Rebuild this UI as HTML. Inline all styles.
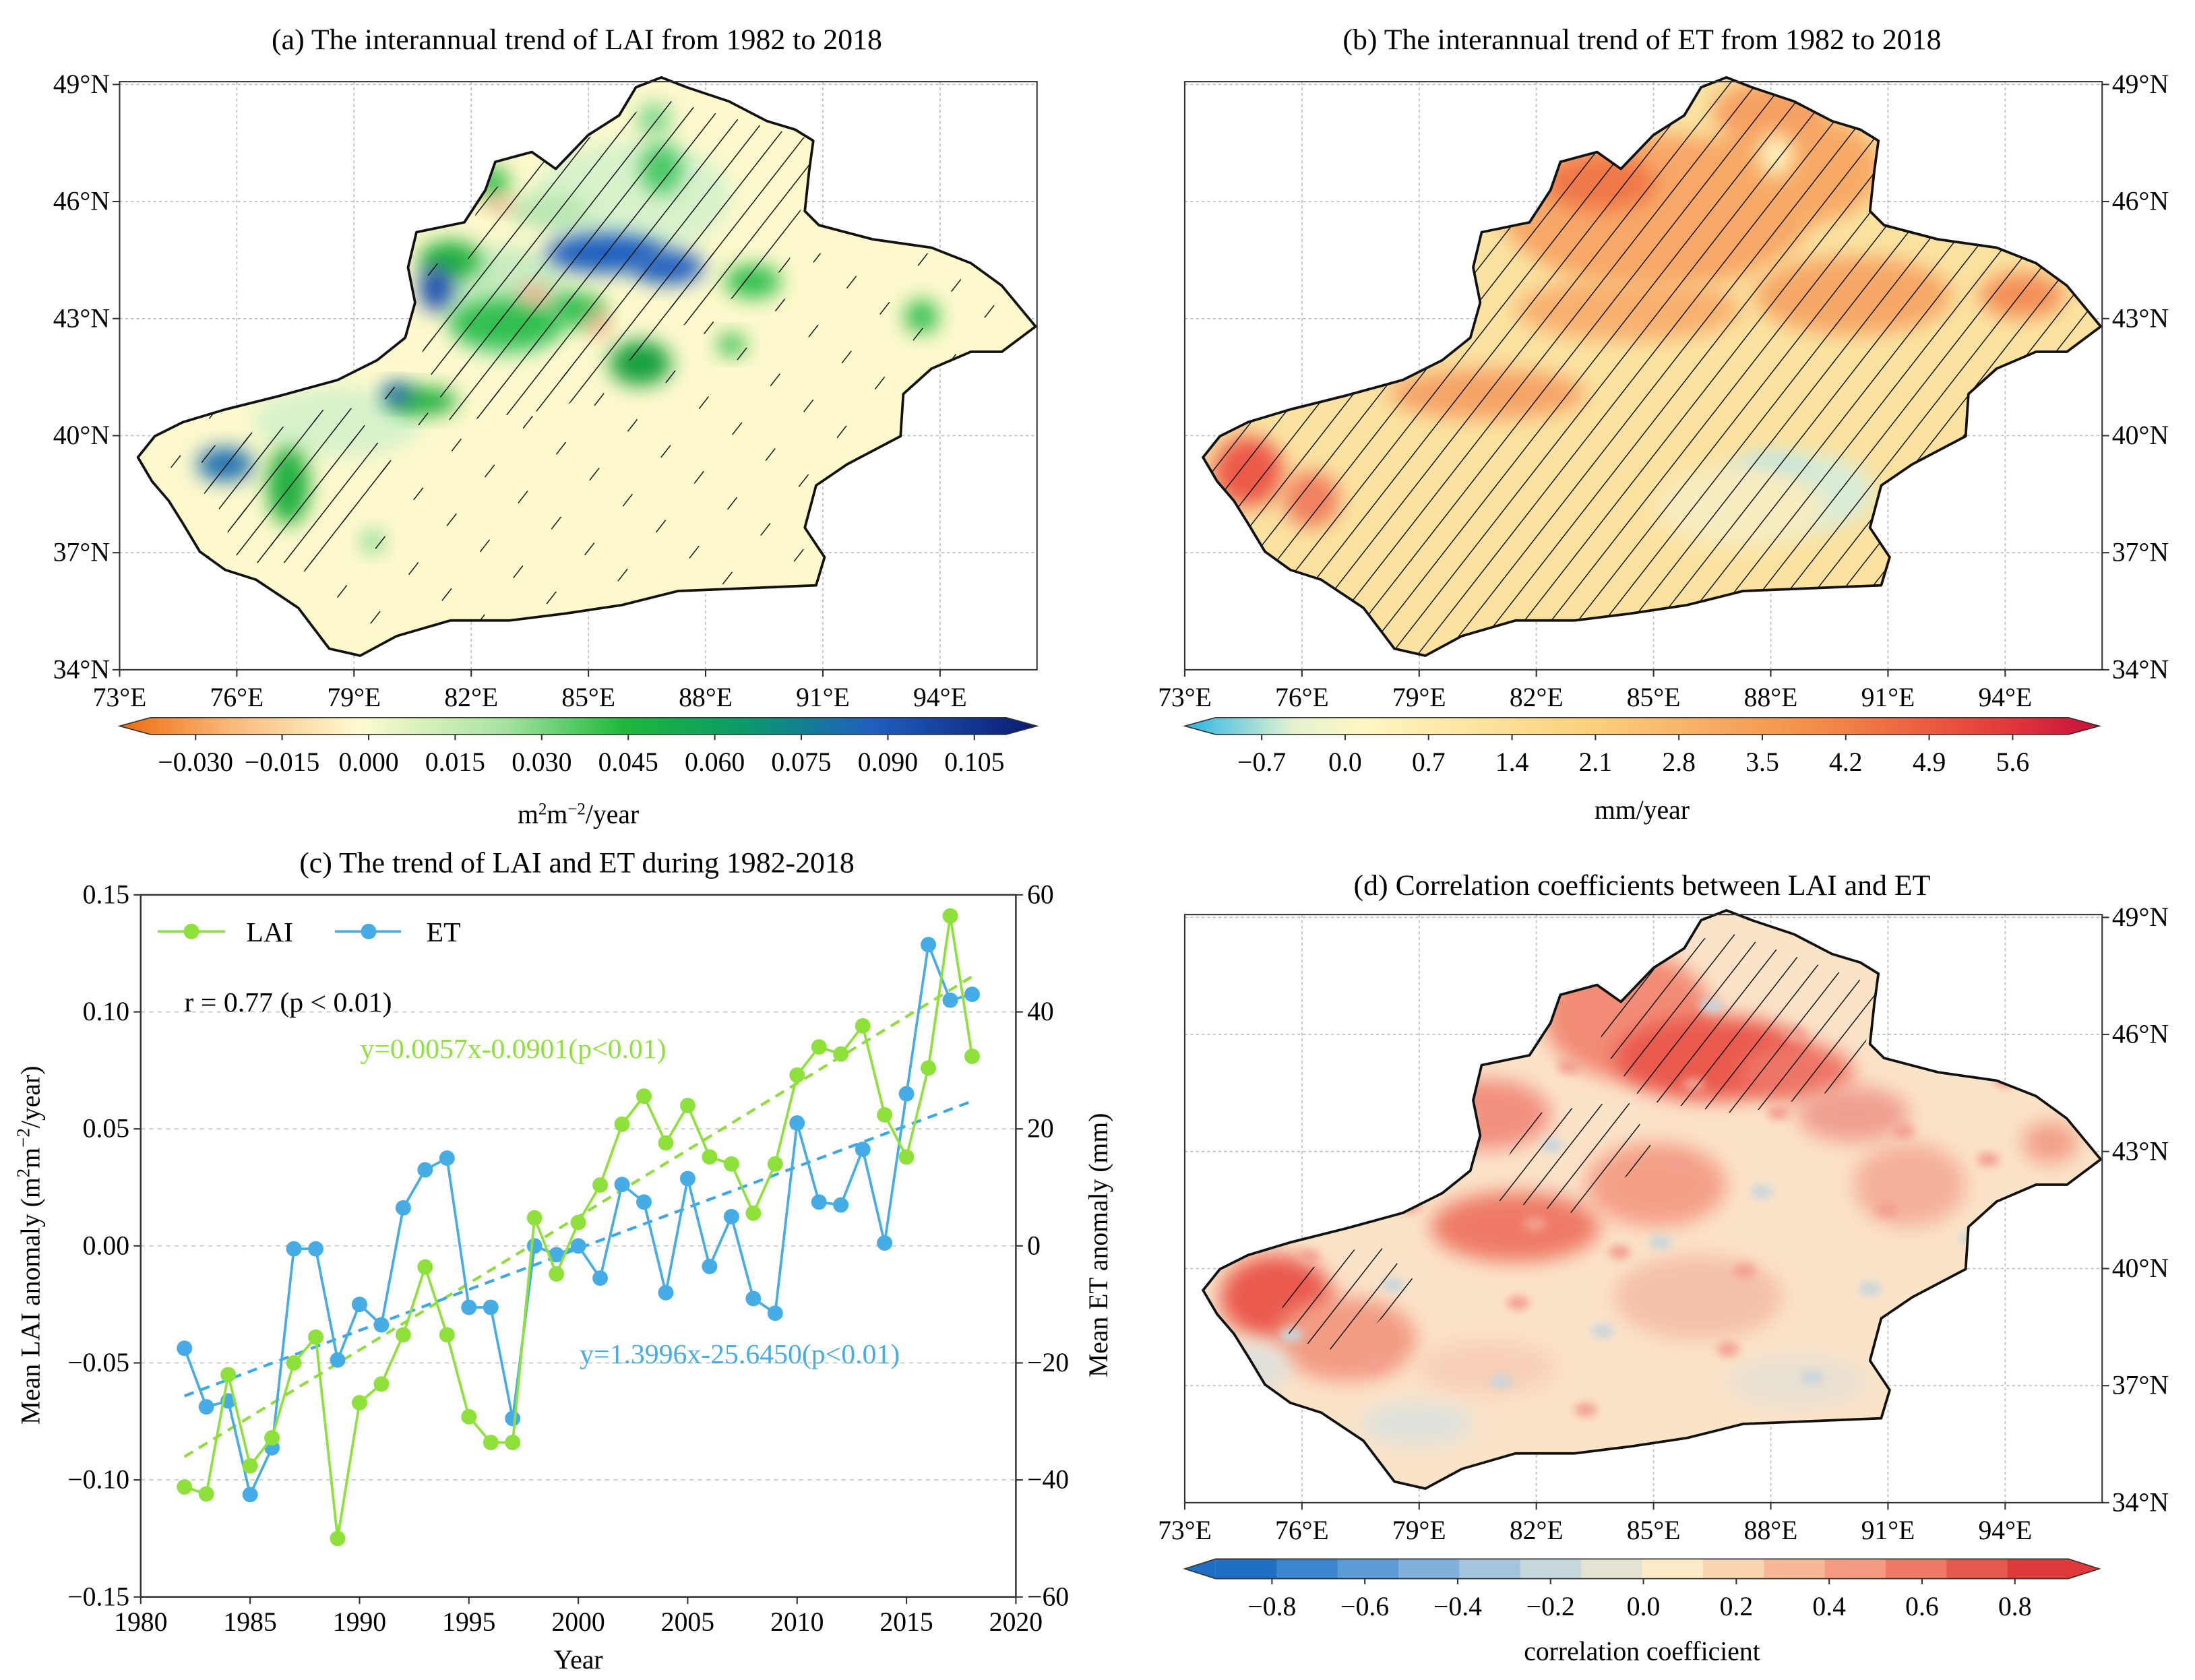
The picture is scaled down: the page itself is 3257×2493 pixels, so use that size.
<!DOCTYPE html>
<html><head><meta charset="utf-8">
<style>
html,body{margin:0;padding:0;background:#fff;}
svg{display:block;font-family:"Liberation Serif","DejaVu Serif",serif;}
</style></head>
<body>
<svg id="fig" width="3257" height="2493" viewBox="0 0 1560 1194" xmlns="http://www.w3.org/2000/svg">
<defs>
  <filter id="blur" x="-50%" y="-50%" width="200%" height="200%"><feGaussianBlur stdDeviation="7"/></filter>
  <filter id="blur2" x="-50%" y="-50%" width="200%" height="200%"><feGaussianBlur stdDeviation="3"/></filter>
  <pattern id="hatch" width="15" height="14" patternUnits="userSpaceOnUse" patternTransform="rotate(38)">
    <line x1="0" y1="0" x2="0" y2="14" stroke="#111" stroke-width="1.4"/>
  </pattern>
  <pattern id="hatchSparse" width="30" height="44" patternUnits="userSpaceOnUse" patternTransform="rotate(38)">
    <line x1="0" y1="0" x2="0" y2="11" stroke="#111" stroke-width="1.4"/>
  </pattern>
  <linearGradient id="gradA" x1="0" x2="1">
    <stop offset="0" stop-color="#ee6a0c"/>
    <stop offset="0.12" stop-color="#f8b878"/>
    <stop offset="0.26" stop-color="#fffbd0"/>
    <stop offset="0.42" stop-color="#a6e3a0"/>
    <stop offset="0.55" stop-color="#1db83a"/>
    <stop offset="0.68" stop-color="#0a9a6a"/>
    <stop offset="0.82" stop-color="#1f5fc0"/>
    <stop offset="1" stop-color="#0a1a70"/>
  </linearGradient>
  <linearGradient id="gradB" x1="0" x2="1">
    <stop offset="0" stop-color="#26b5e6"/>
    <stop offset="0.12" stop-color="#e6f3d0"/>
    <stop offset="0.2" stop-color="#fff6c0"/>
    <stop offset="0.45" stop-color="#fbcf7a"/>
    <stop offset="0.7" stop-color="#f38a48"/>
    <stop offset="0.88" stop-color="#e6403a"/>
    <stop offset="1" stop-color="#c8103a"/>
  </linearGradient>
  <clipPath id="clipA"><path id="shapeA" d=""/></clipPath>
  <clipPath id="clipB"><path id="shapeB" d=""/></clipPath>
  <clipPath id="clipD"><path id="shapeD" d=""/></clipPath>
</defs>
<rect width="1560" height="1194" fill="#fff"/>

<text x="410" y="35" font-size="21" text-anchor="middle">(a) The interannual trend of LAI from 1982 to 2018</text>
<text x="1167" y="35" font-size="21" text-anchor="middle">(b) The interannual trend of ET from 1982 to 2018</text>
<text x="410" y="620" font-size="21" text-anchor="middle">(c) The trend of LAI and ET during 1982-2018</text>
<text x="1167" y="636" font-size="21" text-anchor="middle">(d) Correlation coefficients between LAI and ET</text>

<g id="maps"></g>
<g id="panelC"></g>
</svg>

<script>
// ---------- Panel C data ----------
const years = [1982,1983,1984,1985,1986,1987,1988,1989,1990,1991,1992,1993,1994,1995,1996,1997,1998,1999,2000,2001,2002,2003,2004,2005,2006,2007,2008,2009,2010,2011,2012,2013,2014,2015,2016,2017,2018];
const laiValues = [-0.103,-0.106,-0.055,-0.094,-0.082,-0.050,-0.039,-0.125,-0.067,-0.059,-0.038,-0.009,-0.038,-0.073,-0.084,-0.084,0.012,-0.012,0.010,0.026,0.052,0.064,0.044,0.060,0.038,0.035,0.014,0.035,0.073,0.085,0.082,0.094,0.056,0.038,0.076,0.141,0.081];
const etValues = [-17.5,-27.5,-26.5,-42.5,-34.5,-0.5,-0.5,-19.5,-10,-13.5,6.5,13,15,-10.5,-10.5,-29.5,0,-1.5,0,-5.5,10.5,7.5,-8,11.5,-3.5,5,-9,-11.5,21,7.5,7,16.5,0.5,26,51.5,42,43];
const laiTrend = [0.0057,-0.0901];
const etTrend = [1.3996,-25.6450];
const xTicks = [1980,1985,1990,1995,2000,2005,2010,2015,2020];
const laiTicks = [-0.15,-0.10,-0.05,0.00,0.05,0.10,0.15];
const laiTickLabels = ["\u22120.15","\u22120.10","\u22120.05","0.00","0.05","0.10","0.15"];
const etTicks = [-60,-40,-20,0,20,40,60];
const etTickLabels = ["\u221260","\u221240","\u221220","0","20","40","60"];

const cbATicks = [-0.030,-0.015,0.000,0.015,0.030,0.045,0.060,0.075,0.090,0.105];
const cbATickLabels = ["\u22120.030","\u22120.015","0.000","0.015","0.030","0.045","0.060","0.075","0.090","0.105"];
const cbBTicks = [-0.7,0.0,0.7,1.4,2.1,2.8,3.5,4.2,4.9,5.6];
const cbBTickLabels = ["\u22120.7","0.0","0.7","1.4","2.1","2.8","3.5","4.2","4.9","5.6"];
const cbDTicks = [-0.8,-0.6,-0.4,-0.2,0.0,0.2,0.4,0.6,0.8];
const cbDTickLabels = ["\u22120.8","\u22120.6","\u22120.4","\u22120.2","0.0","0.2","0.4","0.6","0.8"];
const cbDColors = ["#1f6fc6","#3b85cf","#5b9bd6","#7fb1dc","#a3c5df","#c6d7dc","#e4e2d2","#fbebc6","#fbd4b0","#f8b898","#f49a80","#ee7a66","#e65a4e","#de3a3a"];

const NS = "http://www.w3.org/2000/svg";
function mk(tag, attrs, parent){const e=document.createElementNS(NS,tag);for(const k in attrs)e.setAttribute(k,attrs[k]);if(parent)parent.appendChild(e);return e;}

const outline = [[98,325],[110,310],[130,300],[160,291],[200,281],[240,270],[268,256],[288,240],[295,215],[290,190],[296,165],[330,158],[345,135],[352,115],[378,108],[395,120],[418,96],[440,82],[452,62],[470,55],[488,62],[518,72],[545,86],[565,92],[578,100],[575,122],[572,150],[582,160],[620,170],[662,176],[690,187],[712,203],[736,232],[712,250],[690,250],[662,262],[642,280],[640,310],[602,330],[580,345],[572,375],[586,396],[580,416],[532,418],[482,420],[442,430],[402,436],[362,441],[320,441],[282,452],[256,466],[234,461],[212,432],[182,412],[160,405],[142,392],[130,372],[120,356],[108,342]];
function pathFor(dx,dy){return "M"+outline.map(p=>(p[0]+dx)+","+(p[1]+dy)).join("L")+"Z";}
const panels = [
  {id:"a",dx:0,dy:0,x0:85,y0:58,fill:"#fdf9cc",clip:"clipA",shape:"shapeA"},
  {id:"b",dx:757,dy:0,x0:842,y0:58,fill:"#fbe2a0",clip:"clipB",shape:"shapeB"},
  {id:"d",dx:757,dy:592,x0:842,y0:650,fill:"#fbe3c8",clip:"clipD",shape:"shapeD"}
];
const maps = document.getElementById("maps");
const lonTicks=[73,76,79,82,85,88,91,94];
const latTicks=[49,46,43,40,37,34];
function poly(pts,p){return pts.map(q=>(q[0]+p.dx)+","+(q[1]+p.dy)).join(" ");}
panels.forEach(p=>{
  document.getElementById(p.shape).setAttribute("d",pathFor(p.dx,p.dy));
  const g = mk("g",{},maps);
  
  
  const W=652,H=418;
  const lonX=l=>p.x0+(l-73)/3*83.3;
  const latY=l=>p.y0+2+(49-l)/3*83.2;
  lonTicks.forEach(l=>{ if(l>73) mk("line",{x1:lonX(l),x2:lonX(l),y1:p.y0,y2:p.y0+H,stroke:"#bbb","stroke-width":0.8,"stroke-dasharray":"2,2"},g);});
  latTicks.forEach(l=>{ if(l>34) mk("line",{x1:p.x0,x2:p.x0+W,y1:latY(l),y2:latY(l),stroke:"#bbb","stroke-width":0.8,"stroke-dasharray":"2,2"},g);});
  const reg = mk("path",{d:pathFor(p.dx,p.dy),fill:p.fill},g);
  
  
  const blobs = mk("g",{"clip-path":"url(#"+p.clip+")"},g);
  const B=(cx,cy,rx,ry,c,f)=>mk("ellipse",{cx:cx+p.dx,cy:cy+p.dy,rx,ry,fill:c,filter:"url(#"+(f||"blur")+")"},blobs);
  if(p.id==="a"){
    [[360,215,45,40,"#c8ecc0"],[450,140,70,40,"#d8f2cc"],[240,300,60,25,"#d8f2cc"],[350,130,12,12,"#3cc050"],[390,150,30,12,"#b8e6b0"],[465,85,12,12,"#80d890"],[470,120,15,18,"#4cc868"],[320,185,22,14,"#20b040"],[310,205,12,16,"#1a4fb0"],[430,180,42,14,"#1d5fc0"],[475,190,25,12,"#2460c0"],[360,230,40,18,"#30c050"],[410,220,20,12,"#30c050"],[455,258,22,16,"#15a040"],[300,285,25,10,"#20b040"],[282,280,10,8,"#1a5fb0"],[160,330,20,12,"#1a70b0"],[205,345,15,28,"#20b040"],[535,200,20,12,"#30c050"],[520,245,10,8,"#30c050"],[655,225,12,12,"#30c050"],[380,210,12,8,"#f4b090"],[425,230,8,10,"#f4b090"],[265,385,8,8,"#80d890"],[355,145,10,6,"#f4b090"]].forEach(b=>B(...b));
  } else if(p.id==="b"){
    [[420,150,110,55,"#f8a868"],[380,130,40,20,"#f07848"],[520,120,60,40,"#f7aa66"],[500,80,40,22,"#f7a064"],[560,210,70,28,"#f6a868"],[680,210,30,16,"#f39058"],[300,280,70,18,"#f5a468"],[130,335,25,25,"#ec5a48"],[175,355,20,20,"#f08060"],[400,220,80,22,"#f8b070"],[520,350,55,28,"#d8ecd8"],[500,345,30,22,"#b8e0e0"],[480,360,60,30,"#f8ecc0"],[505,110,12,15,"#fff4c0"]].forEach(b=>B(...b));
  } else {
    [[400,130,60,45,"#f28c76"],[460,160,70,30,"#ea5a4e"],[520,170,40,20,"#ee7666"],[560,200,40,20,"#f0a090"],[300,200,45,25,"#f29080"],[320,280,60,25,"#ee7a66"],[420,250,50,30,"#f4a088"],[150,330,40,30,"#ea5a4e"],[200,360,50,30,"#f29c84"],[600,250,40,30,"#f4b09a"],[700,220,20,15,"#f2a088"],[450,330,60,30,"#f4c0a8"],[300,380,50,20,"#f8d0b8"],[250,420,40,15,"#dde2dc"],[520,390,50,18,"#e8e0d2"],[130,380,30,18,"#e0e0da"]].forEach(b=>B(...b));
    for(let i=0;i<40;i++){const x=120+((i*137)%560),y=120+((i*89)%300);B(x,y,8,5,(i%3?"#f3a090":"#c9d5dc"),"blur2");}
  }
  const hg = mk("g",{"clip-path":"url(#"+p.clip+")"},g);
  if(p.id==="a"){
    mk("polygon",{points:poly([[340,140],[470,70],[580,100],[560,190],[470,240],[400,290],[320,300],[300,250],[330,200]],p),fill:"url(#hatch)"},hg);
    mk("polygon",{points:poly([[140,320],[250,290],[280,330],[230,400],[170,400]],p),fill:"url(#hatch)"},hg);
    mk("rect",{x:90+p.dx,y:180+p.dy,width:650,height:280,fill:"url(#hatchSparse)"},hg);
  } else if(p.id==="b"){
    mk("rect",{x:85+p.dx,y:50+p.dy,width:660,height:420,fill:"url(#hatch)"},hg);
  } else {
    mk("polygon",{points:poly([[390,95],[470,70],[580,110],[560,180],[480,200],[410,190],[380,150]],p),fill:"url(#hatch)"},hg);
    mk("polygon",{points:poly([[330,200],[400,190],[420,230],[360,270],[300,260]],p),fill:"url(#hatch)"},hg);
    mk("polygon",{points:poly([[150,320],[220,290],[250,320],[200,370],[160,360]],p),fill:"url(#hatch)"},hg);
  }
  const ol = mk("path",{d:pathFor(p.dx,p.dy),fill:"none",stroke:"#111","stroke-width":1.8,"stroke-linejoin":"round"},g);
  
  
  mk("rect",{x:p.x0,y:p.y0,width:W,height:H,fill:"none",stroke:"#333","stroke-width":1},g);
  lonTicks.forEach(l=>{
    mk("line",{x1:lonX(l),x2:lonX(l),y1:p.y0+H,y2:p.y0+H+5,stroke:"#333"},g);
    const t=mk("text",{x:lonX(l),y:p.y0+H+26,"font-size":19,"text-anchor":"middle"},g);
    t.textContent=l+"\u00b0E";
    
    
  });
  latTicks.forEach(l=>{
    const left = p.id==="a";
    const x = left? p.x0 : p.x0+W;
    mk("line",{x1:x,x2:left?x-5:x+5,y1:latY(l),y2:latY(l),stroke:"#333"},g);
    const t=mk("text",{x:left?x-7:x+7,y:latY(l)+6,"font-size":19,"text-anchor":left?"end":"start"},g);
    t.textContent=l+"\u00b0N";
    
    
  });
});

function colorbar(x0,x1,y,h,fill,ticks,labels,v0,px0,step,dv,unit,unitY,name,discrete){
  const g=mk("g",{},maps);
  
  
  const tw=22;
  if(discrete){
    const w=(x1-x0-2*tw)/discrete.length;
    discrete.forEach((c,i)=>mk("rect",{x:x0+tw+i*w,y:y,width:w+0.5,height:h,fill:c},g));
    mk("polygon",{points:`${x0},${y+h/2} ${x0+tw},${y} ${x0+tw},${y+h}`,fill:discrete[0]},g);
    mk("polygon",{points:`${x1},${y+h/2} ${x1-tw},${y} ${x1-tw},${y+h}`,fill:discrete[discrete.length-1]},g);
  } else {
    mk("polygon",{points:`${x0},${y+h/2} ${x0+tw},${y} ${x1-tw},${y} ${x1},${y+h/2} ${x1-tw},${y+h} ${x0+tw},${y+h}`,fill:fill},g);
  }
  mk("polygon",{points:`${x0},${y+h/2} ${x0+tw},${y} ${x1-tw},${y} ${x1},${y+h/2} ${x1-tw},${y+h} ${x0+tw},${y+h}`,fill:"none",stroke:"#333","stroke-width":0.8},g);
  ticks.forEach((v,i)=>{
    const x=px0+(v-v0)/dv*step;
    mk("line",{x1:x,x2:x,y1:y+h,y2:y+h+4,stroke:"#333"},g);
    const t=mk("text",{x:x,y:y+h+26,"font-size":19,"text-anchor":"middle"},g);
    t.textContent=labels[i];
  });
  const u=mk("text",{x:(x0+x1)/2,y:unitY,"font-size":19,"text-anchor":"middle"},g);
  u.innerHTML=unit;
}
colorbar(85,737,510,12,"url(#gradA)",cbATicks,cbATickLabels,0,262,61.5,0.015,"m<tspan baseline-shift='super' font-size='12'>2</tspan>m<tspan baseline-shift='super' font-size='12'>\u22122</tspan>/year",585,"colorbar-a",null);
colorbar(842,1492,510,12,"url(#gradB)",cbBTicks,cbBTickLabels,0,956,59.3,0.7,"mm/year",582,"colorbar-b",null);
colorbar(842,1492,1108,14,null,cbDTicks,cbDTickLabels,0,1168,66,0.2,"correlation coefficient",1180,"colorbar-d",cbDColors);

const pc=document.getElementById("panelC");
const L=100,R=722,T=636,Bt=1135;
const xS=yr=>L+(yr-1980)/40*(R-L);
const yL=v=>T+(0.15-v)/0.30*(Bt-T);
const yE=v=>T+(60-v)/120*(Bt-T);
laiTicks.forEach((v,i)=>{
  if(v>-0.15&&v<0.15) mk("line",{x1:L,x2:R,y1:yL(v),y2:yL(v),stroke:"#ccc","stroke-dasharray":"3,3","stroke-width":0.9},pc);
  mk("line",{x1:L,x2:L-5,y1:yL(v),y2:yL(v),stroke:"#333"},pc);
  const t=mk("text",{x:L-8,y:yL(v)+6,"font-size":19,"text-anchor":"end"},pc);
  t.textContent=laiTickLabels[i];
  
  
});
etTicks.forEach((v,i)=>{
  mk("line",{x1:R,x2:R+5,y1:yE(v),y2:yE(v),stroke:"#333"},pc);
  const t=mk("text",{x:R+8,y:yE(v)+6,"font-size":19,"text-anchor":"start"},pc);
  t.textContent=etTickLabels[i];
  
  
});
xTicks.forEach(v=>{
  mk("line",{x1:xS(v),x2:xS(v),y1:Bt,y2:Bt+5,stroke:"#333"},pc);
  const t=mk("text",{x:xS(v),y:Bt+24,"font-size":19,"text-anchor":"middle"},pc);
  t.textContent=v;
  
  
});
const fr=mk("rect",{x:L,y:T,width:R-L,height:Bt-T,fill:"none",stroke:"#333","stroke-width":1.2},pc);


const tl=mk("line",{x1:xS(years[0]),y1:yL(laiTrend[1]),x2:xS(years[years.length-1]),y2:yL(laiTrend[0]*(years.length-1)+laiTrend[1]),stroke:"#8fdc3c","stroke-width":2,"stroke-dasharray":"7,5"},pc);


const te=mk("line",{x1:xS(years[0]),y1:yE(etTrend[1]),x2:xS(years[years.length-1]),y2:yE(etTrend[0]*(years.length-1)+etTrend[1]),stroke:"#3aa8e8","stroke-width":2,"stroke-dasharray":"7,5"},pc);


function series(vals,ys,color,name){
  const g=mk("g",{},pc);
  
  
  mk("polyline",{points:vals.map((v,i)=>xS(years[i])+","+ys(v)).join(" "),fill:"none",stroke:color,"stroke-width":1.8},g);
  vals.forEach((v,i)=>{
    const c=mk("circle",{cx:xS(years[i]),cy:ys(v),r:5.5,fill:color},g);
    
    
  });
}
series(etValues,yE,"#45ace6","et-series");
series(laiValues,yL,"#8ee03a","lai-series");
const lg=mk("g",{},pc);


mk("line",{x1:112,x2:160,y1:662,y2:662,stroke:"#8ee03a","stroke-width":1.8},lg);
mk("circle",{cx:136,cy:662,r:5.5,fill:"#8ee03a"},lg);
let t=mk("text",{x:175,y:669,"font-size":20},lg);t.textContent="LAI";
mk("line",{x1:238,x2:285,y1:662,y2:662,stroke:"#45ace6","stroke-width":1.8},lg);
mk("circle",{cx:262,cy:662,r:5.5,fill:"#45ace6"},lg);
t=mk("text",{x:303,y:669,"font-size":20},lg);t.textContent="ET";
t=mk("text",{x:131,y:719,"font-size":20},pc);t.textContent="r = 0.77 (p < 0.01)";


t=mk("text",{x:256,y:752,"font-size":20,fill:"#8ee03a"},pc);t.textContent="y=0.0057x-0.0901(p<0.01)";


t=mk("text",{x:412,y:969,"font-size":20,fill:"#45ace6"},pc);t.textContent="y=1.3996x-25.6450(p<0.01)";


t=mk("text",{x:411,y:1186,"font-size":19,"text-anchor":"middle"},pc);t.textContent="Year";


t=mk("text",{x:0,y:0,"font-size":19,"text-anchor":"middle",transform:"translate(28,885) rotate(-90)"},pc);
t.innerHTML="Mean LAI anomaly (m<tspan baseline-shift='super' font-size='13'>2</tspan>m<tspan baseline-shift='super' font-size='13'>\u22122</tspan>/year)";


t=mk("text",{x:0,y:0,"font-size":19,"text-anchor":"middle",transform:"translate(787,885) rotate(-90)"},pc);
t.textContent="Mean ET anomaly (mm)";


</script>
</body></html>
